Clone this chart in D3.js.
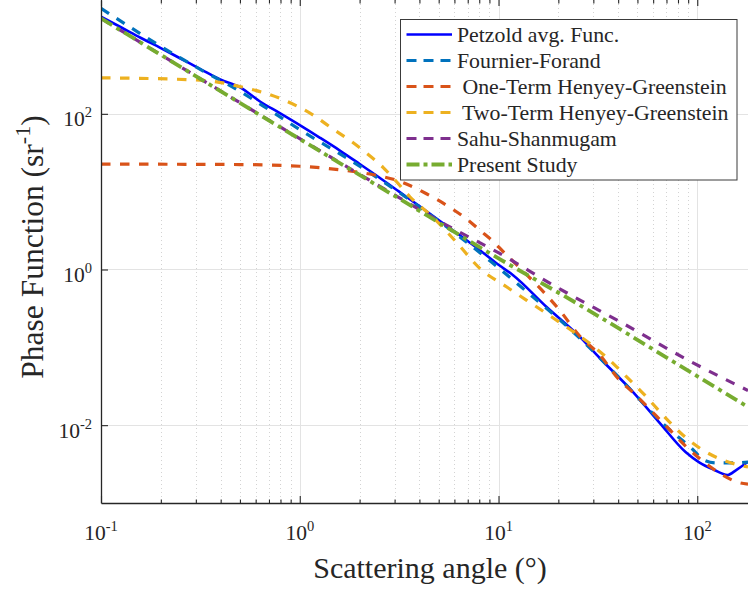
<!DOCTYPE html>
<html>
<head>
<meta charset="utf-8">
<script src="https://cdn.jsdelivr.net/npm/d3@7"></script>
<style>
  body { margin: 0; background: #fff; }
  svg { display: block; }
  text { font-family: "Liberation Serif", "Times New Roman", serif; fill: #262626; }
</style>
</head>
<body>
<svg id="chart" width="748" height="592"></svg>
<script>
// ---------- data ----------
const petzoldAngle = [0.1, 0.126, 0.158, 0.2, 0.251, 0.316, 0.398, 0.501, 0.631, 0.794, 1, 1.259, 1.585, 1.995, 2.512, 3.162, 3.981, 5.012, 6.31, 7.943, 10, 11.8, 17.4, 25.6, 32.3, 47.3, 64.5, 87.3, 102.7, 120.6, 142, 157, 180];
const petzoldValue = [1767, 1296, 950, 699, 514, 376, 276, 219, 144, 102, 71.6, 49.6, 34, 22.8, 15.2, 10, 6.58, 4.3, 2.81, 1.82, 1.15, 0.85, 0.332, 0.137, 0.0729, 0.027, 0.0108, 0.00452, 0.00331, 0.00269, 0.00229, 0.00265, 0.00339];

const ffAngle = [0.1, 0.222, 0.327, 0.481, 0.708, 1.04, 1.79, 3.58, 9.35, 13.2, 25.6, 40.6, 70, 93.3, 108, 124.6, 150, 180];
const ffValue = [2262, 627, 354, 206, 111, 58.8, 25.5, 7.8, 1.21, 0.578, 0.1316, 0.0403, 0.0095, 0.00509, 0.00357, 0.00327, 0.00327, 0.00336];

const ohgAngle = [0.1, 0.5, 1, 1.65, 2.43, 3.07, 3.58, 4.34, 5.68, 7.16, 8.05, 9.38, 10.5, 13.2, 17.4, 20.3, 25.6, 32.3, 40.6, 47.3, 69.8, 88.1, 102.7, 134, 163, 180];
const ohgValue = [22.6, 22.3, 21.2, 18.9, 16.2, 14.0, 12.0, 9.4, 6.3, 4.15, 3.2, 2.3, 1.72, 0.97, 0.47, 0.3, 0.14, 0.0798, 0.038, 0.0265, 0.0097, 0.00528, 0.00373, 0.00229, 0.00182, 0.00175];

const tthgAngle = [0.1, 0.315, 0.519, 0.794, 1.168, 1.467, 1.79, 2.08, 2.63, 3.07, 3.58, 4.69, 6.14, 8.05, 10.96, 13.8, 17.4, 21.9, 28.7, 36.2, 44, 55.4, 67.1, 84.6, 102.7, 134, 180];
const tthgValue = [290, 271, 219, 158, 96.4, 64, 45.5, 34, 20.4, 13.4, 8.6, 4.65, 2.24, 1.035, 0.6, 0.405, 0.273, 0.184, 0.1125, 0.0687, 0.0419, 0.0232, 0.0135, 0.00747, 0.00509, 0.00357, 0.0029];

const ssAngle = [0.1, 1, 3.19, 5.47, 10.14, 18.8, 42.3, 91.6, 180];
const ssValue = [1683, 48, 8.28, 3.72, 1.61, 0.631, 0.203, 0.0667, 0.0279];

const psAngle = [0.1, 1, 3.19, 10.14, 25.6, 81.5, 180];
const psValue = [1683, 47.4, 8.03, 1.362, 0.3496, 0.0584, 0.0171];

const seriesNames = ["Petzold avg. Func.", "Fournier-Forand", " One-Term Henyey-Greenstein", " Two-Term Henyey-Greenstein", "Sahu-Shanmugam", "Present Study"];

const xTickValues = [0.1, 1, 10, 100];
const xTickExponents = ["-1", "0", "1", "2"];
const yTickValues = [1e-2, 1, 1e2];
const yTickExponents = ["-2", "0", "2"];

// ---------- layout ----------
const svg = d3.select("#chart");
const plotLeft = 101, plotRight = 748, plotTop = 0, plotBottom = 503;
const axisColor = "#262626";

const x = d3.scaleLog().domain([0.1, 180]).range([plotLeft, plotRight]);
const y = d3.scaleLog().domain([1e-3, 2900]).range([plotBottom, plotTop]);

svg.append("defs").append("clipPath").attr("id", "plotClip")
  .append("rect").attr("x", plotLeft).attr("y", plotTop)
  .attr("width", plotRight - plotLeft).attr("height", plotBottom - plotTop);

const isMajor = v => Math.abs(Math.log10(v) - Math.round(Math.log10(v))) < 1e-9;
const allXTicks = x.ticks();
const minorX = allXTicks.filter(v => !isMajor(v));
const majorX = allXTicks.filter(isMajor);

// ---------- grid ----------
const grid = svg.append("g");
grid.selectAll(".minorx").data(minorX).enter().append("line")
  .attr("x1", d => Math.round(x(d)) + 0.5).attr("x2", d => Math.round(x(d)) + 0.5)
  .attr("y1", plotTop).attr("y2", plotBottom)
  .attr("stroke", "#c8c8c8").attr("stroke-width", 0.8).attr("stroke-dasharray", "1,3");
grid.selectAll(".majorx").data(majorX.filter(v => v > 0.1)).enter().append("line")
  .attr("x1", d => Math.round(x(d)) + 0.5).attr("x2", d => Math.round(x(d)) + 0.5)
  .attr("y1", plotTop).attr("y2", plotBottom)
  .attr("stroke", "#e3e3e3").attr("stroke-width", 1);
grid.selectAll(".majory").data(yTickValues).enter().append("line")
  .attr("x1", plotLeft).attr("x2", plotRight)
  .attr("y1", d => Math.round(y(d)) + 0.5).attr("y2", d => Math.round(y(d)) + 0.5)
  .attr("stroke", "#e3e3e3").attr("stroke-width", 1);

// ---------- curves ----------
const series = [
  { name: seriesNames[0], a: petzoldAngle, v: petzoldValue, color: "#0000ff", width: 2.6, dash: null, legDash: null },
  { name: seriesNames[1], a: ffAngle, v: ffValue, color: "#0072BD", width: 3.2, dash: "9.5,9", legDash: "10,7" },
  { name: seriesNames[2], a: ohgAngle, v: ohgValue, color: "#D95319", width: 3.2, dash: "9.5,9.5", legDash: "10,7" },
  { name: seriesNames[3], a: tthgAngle, v: tthgValue, color: "#EDB120", width: 3.2, dash: "9.5,9.5", legDash: "10,7" },
  { name: seriesNames[4], a: ssAngle, v: ssValue, color: "#7E2F8E", width: 3.2, dash: "9.5,9.5", legDash: "10,7" },
  { name: seriesNames[5], a: psAngle, v: psValue, color: "#77AC30", width: 3.8, dash: "13,5,4,5", legDash: "13,4,4,4" }
];

const line = d3.line().x(d => x(d[0])).y(d => y(d[1])).curve(d3.curveMonotoneX);
const curves = svg.append("g").attr("clip-path", "url(#plotClip)");
series.forEach(s => {
  curves.append("path")
    .attr("d", line(s.a.map((a, i) => [a, s.v[i]])))
    .attr("fill", "none")
    .attr("stroke", s.color)
    .attr("stroke-width", s.width)
    .attr("stroke-dasharray", s.dash)
    .attr("stroke-linejoin", "round");
});

// ---------- axes ----------
const bottomAxis = d3.axisBottom(x).tickValues(allXTicks).tickSizeInner(-3.5).tickSizeOuter(0).tickFormat("");
const gB = svg.append("g").attr("transform", `translate(0,${plotBottom})`).call(bottomAxis);
gB.selectAll(".tick line").filter(d => isMajor(d)).attr("y2", -7);

const topAxis = d3.axisTop(x).tickValues(allXTicks).tickSizeInner(-3.5).tickSizeOuter(0).tickFormat("");
const gT = svg.append("g").attr("transform", `translate(0,${plotTop})`).call(topAxis);
gT.select(".domain").remove();
gT.selectAll(".tick line").filter(d => isMajor(d)).attr("y2", 6);

const leftAxis = d3.axisLeft(y).tickValues(yTickValues).tickSizeInner(-7).tickSizeOuter(0).tickFormat("");
const gL = svg.append("g").attr("transform", `translate(${plotLeft},0)`).call(leftAxis);

[gB, gT, gL].forEach(g => {
  g.selectAll("path.domain").attr("stroke", axisColor).attr("stroke-width", 1.3);
  g.selectAll(".tick line").attr("stroke", axisColor).attr("stroke-width", 1.1);
});

// tick labels with superscripts
const xLab = svg.append("g");
xTickValues.forEach((v, i) => {
  const t = xLab.append("text").attr("x", x(v)).attr("y", 540)
    .attr("text-anchor", "middle").attr("font-size", 21.5);
  t.append("tspan").text("10");
  t.append("tspan").attr("font-size", 14.5).attr("dy", -9).text(xTickExponents[i]);
});
const yLab = svg.append("g");
yTickValues.forEach((v, i) => {
  const t = yLab.append("text").attr("x", 92).attr("y", y(v) + 12.5)
    .attr("text-anchor", "end").attr("font-size", 21.5);
  t.append("tspan").text("10");
  t.append("tspan").attr("font-size", 14.5).attr("dy", -9).text(yTickExponents[i]);
});

// axis titles
svg.append("text").attr("x", 430).attr("y", 578).attr("text-anchor", "middle")
  .attr("font-size", 30).text("Scattering angle (°)");

const yt = svg.append("text").attr("transform", "translate(43,247) rotate(-90)")
  .attr("text-anchor", "middle").attr("font-size", 31.5);
yt.append("tspan").text("Phase Function (sr");
yt.append("tspan").attr("font-size", 22).attr("dy", -13).text("-1");
yt.append("tspan").attr("dy", 13).text(")");

// ---------- legend ----------
const leg = svg.append("g");
leg.append("rect").attr("x", 400.5).attr("y", 19.5).attr("width", 336.5).attr("height", 160.5)
  .attr("fill", "#fff").attr("stroke", "#3a3a3a").attr("stroke-width", 1);
series.forEach((s, i) => {
  const cy = 34.5 + i * 26;
  leg.append("line").attr("x1", 406.5).attr("x2", 452).attr("y1", cy).attr("y2", cy)
    .attr("stroke", s.color).attr("stroke-width", s.width).attr("stroke-dasharray", s.legDash);
  leg.append("text").attr("x", 457).attr("y", cy + 7.5).attr("font-size", 21.8)
    .style("white-space", "pre").text(s.name);
});
</script>
</body>
</html>
